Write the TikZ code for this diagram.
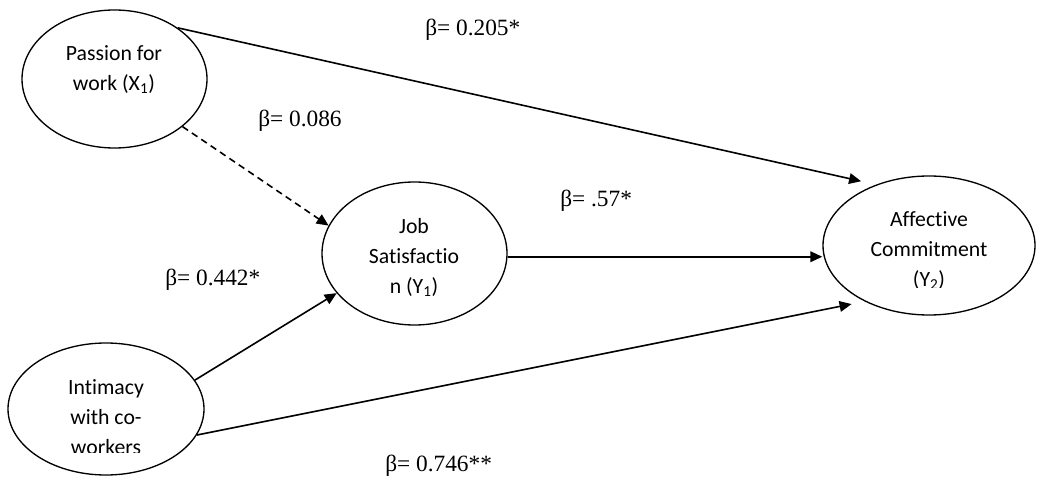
\documentclass[tikz,border=0pt]{standalone}
\usepackage{fontspec}
\setmainfont{Carlito}[Ligatures={NoCommon}]
\newfontfamily\coeffont{Liberation Serif}
\usetikzlibrary{arrows.meta,shapes.geometric}

\begin{document}
\begin{tikzpicture}[
  x=0.75pt, y=-0.75pt,
  construct/.style={draw, ellipse, line width=1pt, inner sep=0pt},
  txt/.style={align=center, inner sep=0pt, font=\fontsize{16.3}{22.5}\selectfont},
  coef/.style={anchor=base west, inner sep=0pt, font=\coeffont\fontsize{17.5}{20}\selectfont},
  link/.style={line width=1.2pt, -{Triangle[length=9pt,width=8pt]}}
]
\useasboundingbox (0,0) rectangle (1038,477);
\node[construct, minimum width=138.75pt, minimum height=103.5pt] (pw) at (114.5,79) {};
\node[construct, minimum width=147pt, minimum height=99pt] (iw) at (106,409) {};
\node[construct, minimum width=138.75pt, minimum height=107.25pt] (js) at (414.5,253.5) {};
\node[construct, minimum width=159pt, minimum height=104.25pt] (ac) at (929,245.5) {};
\node[txt] (pwt) at (114,69.5) {Passion for\\work (X\textsubscript{1})};
\node[txt] (jst) at (414,257.5) {Job\\Satisfactio\\n (Y\textsubscript{1})};
% text boxes cut off at the bottom
\begin{scope}
  \clip (800,150) rectangle (1038,287);
  \node[txt] (act) at (929,250.5) {Affective\\Commitment\\(Y\textsubscript{2})};
\end{scope}
\begin{scope}
  \clip (0,330) rectangle (215,452);
  \node[txt] (iwt) at (106,417) {Intimacy\\with co-\\workers};
\end{scope}

\draw[link, shorten >=11.5pt] (pw.39) -- (ac.131);
\draw[link, dash pattern=on 5pt off 3.5pt] (pw.-35) -- (js.162);
\draw[link] (iw.18) -- (js.207);
\draw[link] (js.-2) -- (js.-2 -| ac.west);
\draw[link, shorten >=10pt] (iw.-16) -- (ac.221);

\node[coef] (b1) at (425,36) {β= 0.205*};
\node[coef] (b2) at (258,127) {β= 0.086};
\node[coef] (b3) at (560,207) {β= .57*};
\node[coef] (b4) at (165,286) {β= 0.442*};
\node[coef] (b5) at (385,471) {β= 0.746**};
\end{tikzpicture}
\end{document}
